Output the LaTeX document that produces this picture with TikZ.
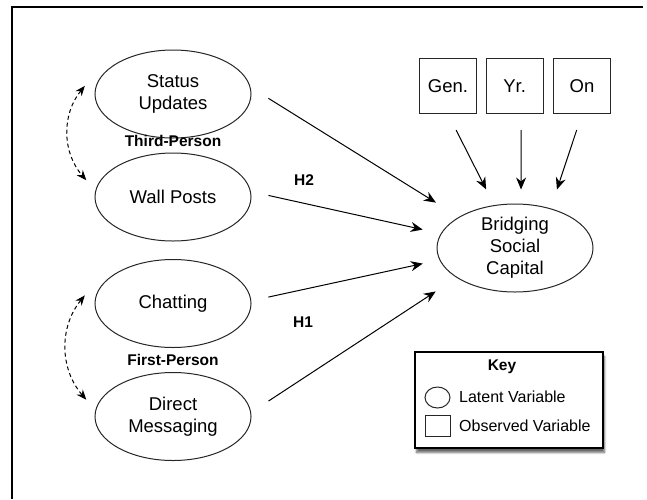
\documentclass[tikz,border=0pt]{standalone}
\usepackage{fontspec}
\setmainfont{Liberation Sans}
\usepackage{tikz}
\usetikzlibrary{arrows.meta}
\usetikzlibrary{shapes.geometric}
\usetikzlibrary{shadows.blur}
\tikzstyle{latent} = [draw=black!85, ellipse, line width=1pt, minimum width=156pt, minimum height=88pt, inner sep=0pt, align=center, font=\fontsize{18.5}{22}\selectfont]
\tikzstyle{observed} = [draw=black!85, rectangle, line width=1pt, minimum width=57pt, minimum height=55pt, font=\fontsize{18.5}{22}\selectfont]
\tikzstyle{arrow} = [line width=1pt, -{Stealth[length=12pt, width=10pt]}]
\tikzstyle{corr} = [line width=1pt, dash pattern=on 4pt off 3pt, {Stealth[length=10pt, width=8pt]}-{Stealth[length=10pt, width=8pt]}]
\tikzstyle{grouplabel} = [font=\bfseries\fontsize{15.5}{18}\selectfont]
\tikzstyle{keytext} = [inner sep=0pt, anchor=west, font=\fontsize{16}{19}\selectfont]

\begin{document}
\begin{tikzpicture}[x=1pt, y=1pt]
\useasboundingbox (0,0) rectangle (647,-499);
\draw[line width=2pt] (643,-7) -- (12,-7) -- (12,-499);

% social media use
\node[latent] (status) at (173,-94) {Status\\Updates};
\node[latent] (wall) at (173,-197) {Wall Posts};
\node[latent] (chat) at (173,-303.5) {Chatting};
\node[latent] (direct) at (173,-416.5) {Direct\\Messaging};
\node[grouplabel] (third) at (173,-141) {Third-Person};
\node[grouplabel] (first) at (173,-360) {First-Person};
\node[grouplabel] (htwo) at (304,-180) {H2};
\node[grouplabel] (hone) at (303,-322.5) {H1};

% controls and outcome
\node[observed] (gen) at (448,-86) {Gen.};
\node[observed] (yr) at (514.7,-86) {Yr.};
\node[observed] (on) at (582,-86) {On};
\node[latent] (bridging) at (515,-248) {Bridging\\Social\\Capital};

\draw[arrow, shorten <=21pt, shorten >=27pt] (status.5) -- (bridging.151);
\draw[arrow, shorten <=18pt, shorten >=18.5pt] (wall.4.4) -- (bridging.169.3);
\draw[arrow, shorten <=17.5pt, shorten >=17pt] (chat.2.1) -- (bridging.-171.4);
\draw[arrow, shorten <=20.7pt, shorten >=25pt] (direct.3.1) -- (bridging.-153.2);
\draw[arrow, shorten <=18pt, shorten >=17.6pt] (gen.south) -- (bridging.116.7);
\draw[arrow, shorten <=16pt, shorten >=14pt] ([xshift=6.5pt]yr.south) -- ([xshift=6pt]bridging.north);
\draw[arrow, shorten <=16.9pt, shorten >=19.8pt] (on.south) -- (bridging.48);

\draw[corr] ([xshift=-11pt]status.174) to[bend right=40] ([xshift=-14pt]wall.167);
\draw[corr] ([xshift=-11pt]chat.174) to[bend right=40] ([xshift=-14pt]direct.167);

% key
\node[draw, line width=1.1pt, fill=white, minimum width=188pt, minimum height=96pt, blur shadow={shadow xshift=1.5pt, shadow yshift=-4.5pt, shadow blur steps=6, shadow opacity=60}] (key) at (509,-400) {};
\node[grouplabel] (keytitle) at (502,-367) {Key};
\node[draw=black!85, ellipse, line width=1pt, minimum width=25pt, minimum height=21pt, inner sep=0pt] (keylatent) at (437.5,-397.5) {};
\node[draw=black!85, rectangle, line width=1pt, minimum width=25pt, minimum height=21pt, inner sep=0pt] (keyobserved) at (437.5,-426.3) {};
\node[keytext] (latenttext) at (459,-396.7) {Latent Variable};
\node[keytext] (observedtext) at (459,-426) {Observed Variable};
\end{tikzpicture}
\end{document}
